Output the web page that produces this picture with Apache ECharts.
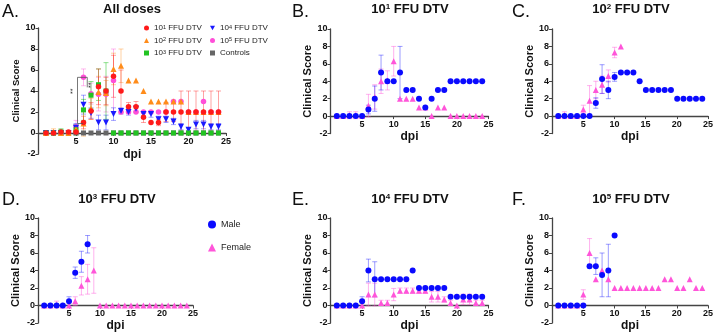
<!DOCTYPE html>
<html>
<head>
<meta charset="utf-8">
<script src="https://cdn.jsdelivr.net/npm/echarts@6/dist/echarts.min.js"></script>
<style>
  html, body { margin: 0; padding: 0; background: #fff; }
  #chart { width: 716px; height: 333px; }
</style>
</head>
<body>
<div id="chart"></div>
<script>
// days post infection
const days = [1, 2, 3, 4, 5, 6, 7, 8, 9, 10, 11, 12, 13, 14, 15, 16, 17, 18, 19, 20, 21, 22, 23, 24];

// A. all doses (mean, sd)
const d1Mean = [0, 0, 0.1, 0.1, 0.1, 1.0, 2.1, 4.4, 4.0, 5.4, 4.0, 2.5, 2.5, 1.5, 1.0, 1.0, 2, 2, 2, 2, 2, 2, 2, 2];
const d1Err = [0, 0, 0, 0, 0.2, 0.6, 0.8, 1.7, 1.3, 2.0, 2.0, 0.4, 0.5, 0.5, 0, 0.3, 0.9, 0.9, 2, 2, 2, 2, 2, 2];
const d2Mean = [0, 0.1, 0, 0, 0.35, 0.9, 2.3, 3.9, 3.8, 6.1, 6.4, 5, 5, 4, 3, 3, 3, 3, 3, 2, 2, 2, 2, 2];
const d2Err = [0, 0.3, 0, 0, 0.4, 1.2, 1.0, 1.5, 1.2, 1.5, 1.6, 0, 0, 0, 0, 0, 0, 0, 0, 0, 0, 0, 0, 0];
const d3Mean = [0, 0, 0.1, 0, 0.3, 2.2, 3.6, 4.6, 4.0, 0, 0, 0, 0, 0, 0, 0, 0, 0, 0, 0, 0, 0, 0, 0];
const d3Err = [0, 0, 0.3, 0, 0.5, 1.0, 1.3, 1.5, 2.7, 0, 0, 0, 0, 0, 0, 0, 0, 0, 0, 0, 0, 0, 0, 0];
const d4Mean = [0, 0, 0, 0, 0.5, 2.7, 1.9, 1.0, 1.0, 1.8, 2.1, 2.0, 2.3, 1.8, 1.8, 1.3, 1.3, 1.1, 0.6, 0.3, 0.8, 0.8, 0.6, 0.6];
const d4Err = [0, 0, 0, 0, 0.4, 0.9, 0.5, 0.7, 0.7, 0.6, 0.3, 0.3, 0.3, 0.2, 0.3, 0.3, 0.3, 0.3, 0.3, 0.2, 0.4, 0.4, 0.3, 0.3];
const d5Mean = [0, 0, 0, 0, 0.6, 5.3, 3.75, 3.7, 3.7, 5.0, 2, 2, 2, 2, 2, 2, 2, 3, 3, 2, 2, 3, 2, 2];
const d5Err = [0, 0, 0, 0, 0.6, 0.8, 1.0, 1.6, 1.7, 3.0, 0, 0, 0, 0, 0, 0, 0, 0, 0, 0, 0, 0, 0, 0];
const ctrlMean = [0, 0, 0, 0, 0, 0, 0, 0, 0, 0, 0, 0, 0, 0, 0, 0, 0, 0, 0, 0, 0, 0, 0, 0];

// B. 10^1
const bMale = [0, 0, 0, 0, 0, 0.75, 2, 5, 4, 4, 5, 3, 3, 2, 1, 2, 3, 3, 4, 4, 4, 4, 4, 4];
const bMaleErr = [0, 0, 0, 0, 0, 0.5, 1.45, 2, 0, 0, 3, 0, 0, 0, 0, 0, 0, 0, 0, 0, 0, 0, 0, 0];
const bFemale = [0, 0, 0.1, 0.1, 0, 1.2, 2.2, 4, 4.1, 6.3, 2, 2, 2, 1, 1, 0, 1, 1, 0, 0, 0, 0, 0, 0];
const bFemaleErr = [0, 0, 0.4, 0.4, 0, 1.3, 1.4, 1.4, 1.1, 1.7, 0, 0, 0, 0, 0, 0, 0, 0, 0, 0, 0, 0, 0, 0];

// C. 10^2
const cMale = [0, 0, 0, 0, 0, 0, 1.5, 4.25, 3, 4.5, 5, 5, 5, 4, 3, 3, 3, 3, 3, 2, 2, 2, 2, 2];
const cMaleErr = [0, 0, 0, 0, 0, 0, 0.6, 1.65, 1, 0.5, 0, 0, 0, 0, 0, 0, 0, 0, 0, 0, 0, 0, 0, 0];
const cFemale = [0, 0.1, 0, 0, 0.75, 1.75, 3, 3.6, 4.6, 7.3, 8, null, null, null, null, null, null, null, null, null, null, null, null, null];
const cFemaleErr = [0, 0.4, 0, 0, 0.5, 1.75, 1, 1, 0.7, 0.6, 0, 0, 0, 0, 0, 0, 0, 0, 0, 0, 0, 0, 0, 0];

// D. 10^3
const dMale = [0, 0, 0, 0, 0.5, 3.75, 5, 7, null, null, null, null, null, null, null, null, null, null, null, null, null, null, null, null];
const dMaleErr = [0, 0, 0, 0, 0.5, 0.65, 1.2, 1, 0, 0, 0, 0, 0, 0, 0, 0, 0, 0, 0, 0, 0, 0, 0, 0];
const dFemale = [0, 0, 0.1, 0, 0, 0.5, 2.25, 3, 4, 0, 0, 0, 0, 0, 0, 0, 0, 0, 0, 0, 0, 0, 0, 0];
const dFemaleErr = [0, 0, 0.4, 0, 0, 0.5, 1.05, 1.7, 2.6, 0, 0, 0, 0, 0, 0, 0, 0, 0, 0, 0, 0, 0, 0, 0];

// E. 10^4
const eMale = [0, 0, 0, 0, 0.5, 4, 3, 3, 3, 3, 3, 3, 4, 2, 2, 2, 2, 2, 1, 1, 1, 1, 1, 1];
const eMaleErr = [0, 0, 0, 0, 0.5, 1.3, 2, 0, 0, 0, 0, 0, 0, 0, 0, 0, 0, 0, 0, 0, 0, 0, 0, 0];
const eFemale = [0, 0, 0, 0, 0, 1.25, 1.25, 0.3, 0.3, 1.25, 1.7, 1.7, 1.7, 1.7, 1.7, 1.0, 1.0, 0.7, 0.3, 0, 0.7, 0.7, 0.3, 0.3];
const eFemaleErr = [0, 0, 0, 0, 0, 1.3, 1.3, 0.3, 0.3, 0.7, 0.3, 0.3, 0.3, 0.3, 0.3, 0.6, 0.6, 0.3, 0.3, 0, 0.6, 0.6, 0.3, 0.3];

// F. 10^5
const fMale = [0, 0, 0, 0, 0, 4.5, 4.5, 3.5, 4, 8, null, null, null, null, null, null, null, null, null, null, null, null, null, null];
const fMaleErr = [0, 0, 0, 0, 0, 0.2, 0.95, 2.5, 3, 0, 0, 0, 0, 0, 0, 0, 0, 0, 0, 0, 0, 0, 0, 0];
const fFemale = [0, 0, 0, 0, 1.25, 6, 3, 4, 3, 2, 2, 2, 2, 2, 2, 2, 2, 3, 3, 2, 2, 3, 2, 2];
const fFemaleErr = [0, 0, 0, 0, 0.55, 1.65, 0, 0, 0, 0, 0, 0, 0, 0, 0, 0, 0, 0, 0, 0, 0, 0, 0, 0];

// significance bracket near dpi 6 (x, low, high)
const sigBracket = [[5.2, 0.9, 5.3]];

const yTicks = [-2, 0, 2, 4, 6, 8, 10];
const xTicks = [0, 5, 10, 15, 20, 25];

const FONT = "'Liberation Sans', Arial, sans-serif";
const TXT = "#111";
const AXIS = "#444";
const TRI_DOWN = "path://M0,0 L10,0 L5,9 Z";

const chart = echarts.init(document.getElementById("chart"));

// plot areas (y from -2 to 10)
const grids = [
  { left: 38.5, top: 28, width: 187.5, height: 126 },
  { left: 330.5, top: 29, width: 158, height: 104.5 },
  { left: 552, top: 29, width: 156.5, height: 104.5 },
  { left: 38, top: 218, width: 155, height: 105 },
  { left: 330.5, top: 218, width: 158, height: 105 },
  { left: 552, top: 218, width: 156.5, height: 105 },
];
// the dpi axis sits on the zero line: a second grid that ends there carries it
const yMin = yTicks[0], yMax = yTicks[yTicks.length - 1];
const zeroGrids = grids.map((g) => ({
  left: g.left, top: g.top, width: g.width,
  height: (g.height * yMax) / (yMax - yMin),
}));
const yNameGap = [14, 12, 12, 14, 12, 12];
const yNameSize = [9.5, 11, 11, 11, 11, 11];
const xNameGap = [15.5, 15, 15, 14.5, 14.5, 14.5];

const pts = (mean) =>
  days.map((d, i) => (mean[i] == null ? null : [d, mean[i]])).filter(Boolean);
const errPts = (mean, err) =>
  days.map((d, i) => (mean[i] == null ? null : [d, mean[i], err[i]])).filter(Boolean);

const errRender = (color) => (params, api) => {
  const x = api.value(0);
  const y = api.value(1);
  const e = api.value(2);
  if (!e) return null;
  const hi = api.coord([x, y + e]);
  const lo = api.coord([x, y - e]);
  const w = 2.5;
  const style = { stroke: color, lineWidth: 1 };
  return {
    type: "group",
    children: [
      { type: "line", shape: { x1: hi[0], y1: hi[1], x2: lo[0], y2: lo[1] }, style },
      { type: "line", shape: { x1: hi[0] - w, y1: hi[1], x2: hi[0] + w, y2: hi[1] }, style },
      { type: "line", shape: { x1: lo[0] - w, y1: lo[1], x2: lo[0] + w, y2: lo[1] }, style },
    ],
  };
};

const errSeries = (gi, mean, err, color) => ({
  type: "custom",
  xAxisIndex: gi,
  yAxisIndex: gi,
  silent: true,
  z: 1,
  encode: { x: 0, y: 1 },
  data: errPts(mean, err),
  renderItem: errRender(color),
});

const dotSeries = (gi, name, mean, color, symbol, size) => ({
  type: "scatter",
  name,
  xAxisIndex: gi,
  yAxisIndex: gi,
  z: 3,
  symbol,
  symbolSize: size,
  itemStyle: { color, opacity: 1 },
  data: pts(mean),
});

const C1 = "#ff1a1a", C2 = "#ff8c1a", C3 = "#22c322", C4 = "#1a1aff", C5 = "#ff4fd8", CC = "#666666";
const MALE = "#0a0aff", FEMALE = "#ff55d9";
const fade = (hex, a) => {
  const n = parseInt(hex.slice(1), 16);
  return `rgba(${n >> 16},${(n >> 8) & 255},${n & 255},${a})`;
};

const rich = (size, weight) => ({
  b: { fontSize: size, fontWeight: weight, fontFamily: FONT, color: TXT },
  s: { fontSize: Math.round(size * 0.62), fontWeight: weight, fontFamily: FONT, color: TXT, verticalAlign: "top" },
});
const supLabel = (exp) => `{b|10}{s|${exp}}{b| FFU DTV}`;

const titleText = (text, left, top, size, weight, align) => ({
  text,
  left,
  top,
  padding: 0,
  textAlign: align,
  textStyle: { fontSize: size, fontWeight: weight, fontFamily: FONT, color: TXT, rich: rich(size, weight) },
});

const legendText = {
  fontSize: 8, fontFamily: FONT, color: "#222",
  rich: {
    r: { fontSize: 8, fontFamily: FONT, color: "#222" },
    s: { fontSize: 5.5, fontFamily: FONT, color: "#222", verticalAlign: "top" },
  },
};
const legendName = (n) =>
  n === "Controls" ? "{r|Controls}" : supLabel(n.slice(1)).replace(/\{b\|/g, "{r|");

const option = {
  animation: false,
  backgroundColor: "#fff",
  title: [
    titleText("A.", 2, 3, 18, "normal", "left"),
    titleText("{b|All doses}", 132, 3, 13, "bold", "center"),
    titleText("B.", 292, 3, 18, "normal", "left"),
    titleText(supLabel(1), 410, 3, 13, "bold", "center"),
    titleText("C.", 512, 3, 18, "normal", "left"),
    titleText(supLabel(2), 631, 3, 13, "bold", "center"),
    titleText("D.", 2, 191, 18, "normal", "left"),
    titleText(supLabel(3), 117, 193, 13, "bold", "center"),
    titleText("E.", 292, 191, 18, "normal", "left"),
    titleText(supLabel(4), 410, 193, 13, "bold", "center"),
    titleText("F.", 512, 191, 18, "normal", "left"),
    titleText(supLabel(5), 631, 193, 13, "bold", "center"),
  ],
  legend: [
    {
      left: 144, top: 24, padding: 0, orient: "vertical", itemWidth: 5, itemHeight: 5, itemGap: 4.5,
      data: ["d1", "d2", "d3"],
      formatter: legendName,
      textStyle: legendText,
    },
    {
      left: 210, top: 24, padding: 0, orient: "vertical", itemWidth: 5, itemHeight: 5, itemGap: 4.5,
      data: ["d4", "d5", "Controls"],
      formatter: legendName,
      textStyle: legendText,
    },
    {
      left: 208, top: 220, padding: 0, orient: "vertical", itemWidth: 8, itemHeight: 8, itemGap: 14,
      data: ["Male", "Female"],
      textStyle: { fontSize: 9, fontFamily: FONT, color: "#222" },
    },
  ],
  grid: grids.concat(zeroGrids),
  xAxis: grids
    .map((g, i) => ({
      gridIndex: i,
      type: "value",
      min: xTicks[0],
      max: xTicks[xTicks.length - 1],
      interval: 5,
      show: false,
    }))
    .concat(
      zeroGrids.map((g, i) => ({
        gridIndex: grids.length + i,
        type: "value",
        min: xTicks[0],
        max: xTicks[xTicks.length - 1],
        interval: 5,
        name: "dpi",
        nameLocation: "middle",
        nameGap: xNameGap[i],
        nameTextStyle: { fontFamily: FONT, fontWeight: "bold", fontSize: 12, color: TXT },
        axisLine: { onZero: false, lineStyle: { color: AXIS, width: 1.3 } },
        axisTick: { length: 3, lineStyle: { color: AXIS, width: 1 } },
        axisLabel: {
          fontFamily: FONT, fontWeight: "bold", fontSize: 9, color: TXT, margin: 4,
          formatter: (v) => (v === 0 ? "" : v),
        },
        splitLine: { show: false },
      }))
    ),
  yAxis: grids
    .map((g, i) => ({
      gridIndex: i,
      type: "value",
      min: yMin,
      max: yMax,
      interval: 2,
      name: "Clinical Score",
      nameLocation: "middle",
      nameRotate: 90,
      nameGap: yNameGap[i],
      nameTextStyle: { fontFamily: FONT, fontWeight: "bold", fontSize: yNameSize[i], color: TXT },
      axisLine: { show: true, onZero: false, lineStyle: { color: AXIS, width: 1.3 } },
      axisTick: { show: true, length: 3, lineStyle: { color: AXIS, width: 1 } },
      axisLabel: { fontFamily: FONT, fontWeight: "bold", fontSize: 9, color: TXT, margin: 3 },
      splitLine: { show: false },
    }))
    .concat(
      zeroGrids.map((g, i) => ({
        gridIndex: grids.length + i,
        type: "value",
        min: 0,
        max: yMax,
        show: false,
      }))
    ),
  series: [
    // A
    errSeries(0, d5Mean, d5Err, fade(C5, 0.4)),
    errSeries(0, d4Mean, d4Err, fade(C4, 0.4)),
    errSeries(0, d3Mean, d3Err, fade(C3, 0.5)),
    errSeries(0, d2Mean, d2Err, fade(C2, 0.4)),
    errSeries(0, d1Mean, d1Err, fade(C1, 0.4)),
    dotSeries(0, "Controls", ctrlMean, CC, "rect", 5),
    dotSeries(0, "d5", d5Mean, C5, "circle", 5.5),
    dotSeries(0, "d4", d4Mean, C4, TRI_DOWN, 6),
    dotSeries(0, "d3", d3Mean, C3, "rect", 5),
    dotSeries(0, "d2", d2Mean, C2, "triangle", 6),
    dotSeries(0, "d1", d1Mean, C1, "circle", 5.5),
    {
      type: "custom",
      xAxisIndex: 0,
      yAxisIndex: 0,
      silent: true,
      z: 4,
      encode: { x: 0, y: [1, 2] },
      data: sigBracket,
      renderItem: (params, api) => {
        const x = api.value(0);
        const top = api.coord([x, api.value(2)]);
        const bot = api.coord([x, api.value(1)]);
        const right = api.coord([x + 0.75, api.value(2)])[0];
        const far = api.coord([x + 1.3, api.value(2)])[0];
        const style = { stroke: "#555", lineWidth: 0.8, fill: null };
        const star = (px, py) => ({
          type: "text", x: px, y: py, rotation: Math.PI / 2,
          style: { text: "**", fontSize: 7, fontFamily: FONT, fill: "#333", align: "center", verticalAlign: "middle" },
        });
        return {
          type: "group",
          children: [
            { type: "polyline", shape: { points: [[right, top[1]], [top[0], top[1]], [bot[0], bot[1]], [right, bot[1]]] }, style },
            { type: "polyline", shape: { points: [[right, top[1]], [far, top[1]], [far, top[1] + 10]] }, style },
            star(top[0] - 4, top[1] + 14),
            star(far + 4, top[1] + 8),
          ],
        };
      },
    },
    // B
    errSeries(1, bFemale, bFemaleErr, fade(FEMALE, 0.45)),
    errSeries(1, bMale, bMaleErr, fade(MALE, 0.4)),
    dotSeries(1, "Female", bFemale, FEMALE, "triangle", 6),
    dotSeries(1, "Male", bMale, MALE, "circle", 6),
    // C
    errSeries(2, cFemale, cFemaleErr, fade(FEMALE, 0.45)),
    errSeries(2, cMale, cMaleErr, fade(MALE, 0.4)),
    dotSeries(2, "Female", cFemale, FEMALE, "triangle", 6),
    dotSeries(2, "Male", cMale, MALE, "circle", 6),
    // D
    errSeries(3, dFemale, dFemaleErr, fade(FEMALE, 0.45)),
    errSeries(3, dMale, dMaleErr, fade(MALE, 0.4)),
    dotSeries(3, "Female", dFemale, FEMALE, "triangle", 6),
    dotSeries(3, "Male", dMale, MALE, "circle", 6),
    // E
    errSeries(4, eFemale, eFemaleErr, fade(FEMALE, 0.45)),
    errSeries(4, eMale, eMaleErr, fade(MALE, 0.4)),
    dotSeries(4, "Female", eFemale, FEMALE, "triangle", 6),
    dotSeries(4, "Male", eMale, MALE, "circle", 6),
    // F
    errSeries(5, fFemale, fFemaleErr, fade(FEMALE, 0.45)),
    errSeries(5, fMale, fMaleErr, fade(MALE, 0.4)),
    dotSeries(5, "Female", fFemale, FEMALE, "triangle", 6),
    dotSeries(5, "Male", fMale, MALE, "circle", 6),
  ],
};

chart.setOption(option);
window.addEventListener("resize", () => chart.resize());
</script>
</body>
</html>
